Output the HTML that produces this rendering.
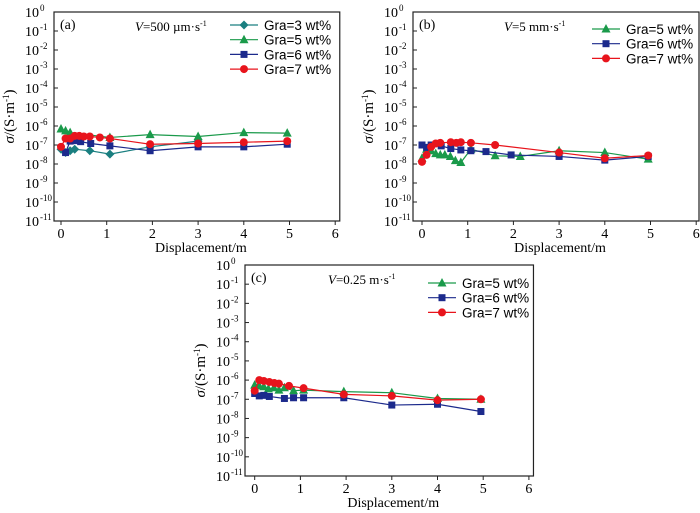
<!DOCTYPE html>
<html><head><meta charset="utf-8"><style>
body{margin:0;background:#fff}
svg{display:block;font-family:"Liberation Serif",serif}
</style></head><body>
<svg id="chart" width="700" height="513"></svg>
<script>
// Panel (a) data
const aX3=[0,0.1,0.2,0.3,0.63,1.07,1.95,3];
const aY3=[6e-8,4e-8,5e-8,6e-8,5e-8,3.3e-8,8e-8,1.6e-7];
const aX5=[0,0.1,0.2,1.07,1.95,3,4,4.95];
const aY5=[7e-7,5.5e-7,4.5e-7,2.5e-7,3.5e-7,2.8e-7,4.5e-7,4.2e-7];
const aX6=[0.1,0.2,0.3,0.43,0.65,1.07,1.95,3,4,4.95];
const aY6=[4e-8,1.6e-7,1.7e-7,1.5e-7,1.2e-7,9e-8,5e-8,8e-8,8e-8,1.1e-7];
const aX7=[0,0.1,0.2,0.3,0.4,0.5,0.63,0.85,1.07,1.95,3,4,4.95];
const aY7=[8e-8,2.2e-7,2.2e-7,3e-7,3e-7,2.8e-7,2.8e-7,2.5e-7,2.2e-7,1.1e-7,1.2e-7,1.4e-7,1.6e-7];
// Panel (b) data
const bX5=[0,0.1,0.2,0.3,0.4,0.5,0.62,0.73,0.85,1.07,1.6,2.15,3,4,4.95];
const bY5=[2e-8,6e-8,5e-8,3.5e-8,3e-8,3e-8,2.5e-8,1.5e-8,1.2e-8,6e-8,2.7e-8,2.5e-8,5e-8,4e-8,1.8e-8];
const bX6=[0,0.1,0.2,0.42,0.63,0.85,1.07,1.4,1.95,3,4,4.95];
const bY6=[1e-7,7.5e-8,1e-7,9e-8,6.5e-8,5.5e-8,5e-8,4.5e-8,3e-8,2.5e-8,1.6e-8,2.5e-8];
const bX7=[0,0.1,0.2,0.3,0.4,0.63,0.75,0.85,1.07,1.6,3,4,4.95];
const bY7=[1.3e-8,3e-8,8e-8,1.2e-7,1.3e-7,1.4e-7,1.3e-7,1.4e-7,1.3e-7,1e-7,4e-8,2e-8,2.8e-8];
// Panel (c) data
const cX5=[0,0.1,0.2,0.3,0.42,0.53,0.65,0.85,1.07,1.95,3,4,4.95];
const cY5=[5.5e-7,5e-7,4.5e-7,3.5e-7,4e-7,3e-7,4e-7,2.8e-7,3e-7,2.5e-7,2.2e-7,1.1e-7,1e-7];
const cX6=[0,0.1,0.2,0.32,0.65,0.85,1.07,1.95,3,4,4.95];
const cY6=[2e-7,1.5e-7,1.6e-7,1.4e-7,1.1e-7,1.2e-7,1.2e-7,1.2e-7,5e-8,5.5e-8,2.3e-8];
const cX7=[0,0.1,0.2,0.32,0.43,0.53,0.75,1.07,1.95,3,4,4.95];
const cY7=[2.8e-7,1e-6,9e-7,8e-7,7e-7,6.5e-7,5e-7,3.8e-7,1.8e-7,1.5e-7,9e-8,1e-7];
const xTicks=[0,1,2,3,4,5,6];
const yExps=[0,-1,-2,-3,-4,-5,-6,-7,-8,-9,-10,-11];

const NS="http://www.w3.org/2000/svg";
const svg=document.getElementById('chart');
const COL={3:'#1a7f80',5:'#1a9a4a',6:'#1c2a8c',7:'#e8141c'};
const MK={3:'diamond',5:'tri',6:'sq',7:'circ'};
function mk(tag,at,parent){const e=document.createElementNS(NS,tag);for(const k in at)e.setAttribute(k,at[k]);(parent||svg).appendChild(e);return e;}
function marker(g,kind,x,y,c){
  if(kind==='circ')return mk('circle',{cx:x,cy:y,r:4,fill:c},g);
  if(kind==='sq')return mk('rect',{x:x-3.5,y:y-3.5,width:7,height:7,fill:c},g);
  if(kind==='tri')return mk('polygon',{points:`${x},${y-5} ${x-4.5},${y+3.5} ${x+4.5},${y+3.5}`,fill:c},g);
  return mk('polygon',{points:`${x},${y-4.5} ${x+4.5},${y} ${x},${y+4.5} ${x-4.5},${y}`,fill:c},g);
}
function panel(P){
  const g=mk('g',{});
  
  
  const L=P.left,T=P.top,B=P.bottom,x0=P.x0,ux=45.7;
  const sx=v=>x0+v*ux, sy=v=>T+(-Math.log10(v))*(B-T)/11;
  const R=Math.min(sx(6.1),699);
  const frame=mk('rect',{x:L,y:T,width:R-L,height:B-T,fill:'none',stroke:'#222','stroke-width':1.2},g);
  
  
  xTicks.forEach(t=>{const X=sx(t);mk('line',{x1:X,y1:B,x2:X,y2:B+4,stroke:'#222'},g);
    const tx=mk('text',{x:X,y:B+17,'font-size':14,'text-anchor':'middle'},g);tx.textContent=t;
    
    });
  yExps.forEach(e=>{const Y=T+(-e)*(B-T)/11;mk('line',{x1:L,y1:Y,x2:L+4,y2:Y,stroke:'#222'},g);
    const tx=mk('text',{x:L-15,y:Y+5,'font-size':14,'text-anchor':'end'},g);tx.textContent='10';
    
    
    const sp=mk('text',{x:L-14,y:Y-1,'font-size':9,'text-anchor':'start'},g);sp.textContent=e===0?'0':'-'+(-e);});
  const xl=mk('text',{x:(L+R)/2+4,y:B+31,'font-size':14,'text-anchor':'middle'},g);xl.textContent='Displacement/m';
  
  
  const yl=mk('text',{x:0,y:0,'font-size':15,'text-anchor':'middle',transform:`translate(${L-40},${(T+B)/2}) rotate(-90)`},g);
  yl.innerHTML='<tspan font-style="italic">σ</tspan>/(S·m<tspan font-size="9" dy="-5">-1</tspan><tspan dy="5">)</tspan>';
  
  
  const lab=mk('text',{x:L+6,y:T+17,'font-size':14},g);lab.textContent='('+P.id+')';
  
  
  const vt=mk('text',{x:P.vx,y:T+19,'font-size':13},g);
  vt.innerHTML='<tspan font-style="italic">V</tspan>='+P.v+'<tspan font-size="8" dy="-5">-1</tspan>';
  
  
  P.series.forEach((s,i)=>{
    const c=COL[s.gra];
    const sg=mk('g',{},g);
    
    
    mk('polyline',{points:s.x.map((v,j)=>sx(v)+','+sy(s.y[j])).join(' '),fill:'none',stroke:c,'stroke-width':1.2},sg);
    s.x.forEach((v,j)=>{const m=marker(sg,MK[s.gra],sx(v),sy(s.y[j]),c);
      
      });
    const ly=P.ly+i*14.7;
    const le=mk('g',{},g);
    
    
    mk('line',{x1:P.lx,y1:ly,x2:P.lx+28,y2:ly,stroke:c,'stroke-width':1.2},le);
    marker(le,MK[s.gra],P.lx+14,ly,c);
    const lt=mk('text',{x:P.lx+34,y:ly+5,'font-size':13.5,'font-family':'"Liberation Sans",sans-serif'},le);lt.textContent='Gra='+s.gra+' wt%';
  });
}
panel({id:'a',left:54,top:12,bottom:221,x0:61,vx:135,v:'500 µm·s',lx:230,ly:25,
  series:[{gra:3,x:aX3,y:aY3},{gra:5,x:aX5,y:aY5},{gra:6,x:aX6,y:aY6},{gra:7,x:aX7,y:aY7}]});
panel({id:'b',left:413,top:12,bottom:221,x0:422,vx:504,v:'5 mm·s',lx:592,ly:29,
  series:[{gra:5,x:bX5,y:bY5},{gra:6,x:bX6,y:bY6},{gra:7,x:bX7,y:bY7}]});
panel({id:'c',left:245,top:265,bottom:476,x0:254.7,vx:328,v:'0.25 m·s',lx:428,ly:283,
  series:[{gra:5,x:cX5,y:cY5},{gra:6,x:cX6,y:cY6},{gra:7,x:cX7,y:cY7}]});
</script>
</body></html>
